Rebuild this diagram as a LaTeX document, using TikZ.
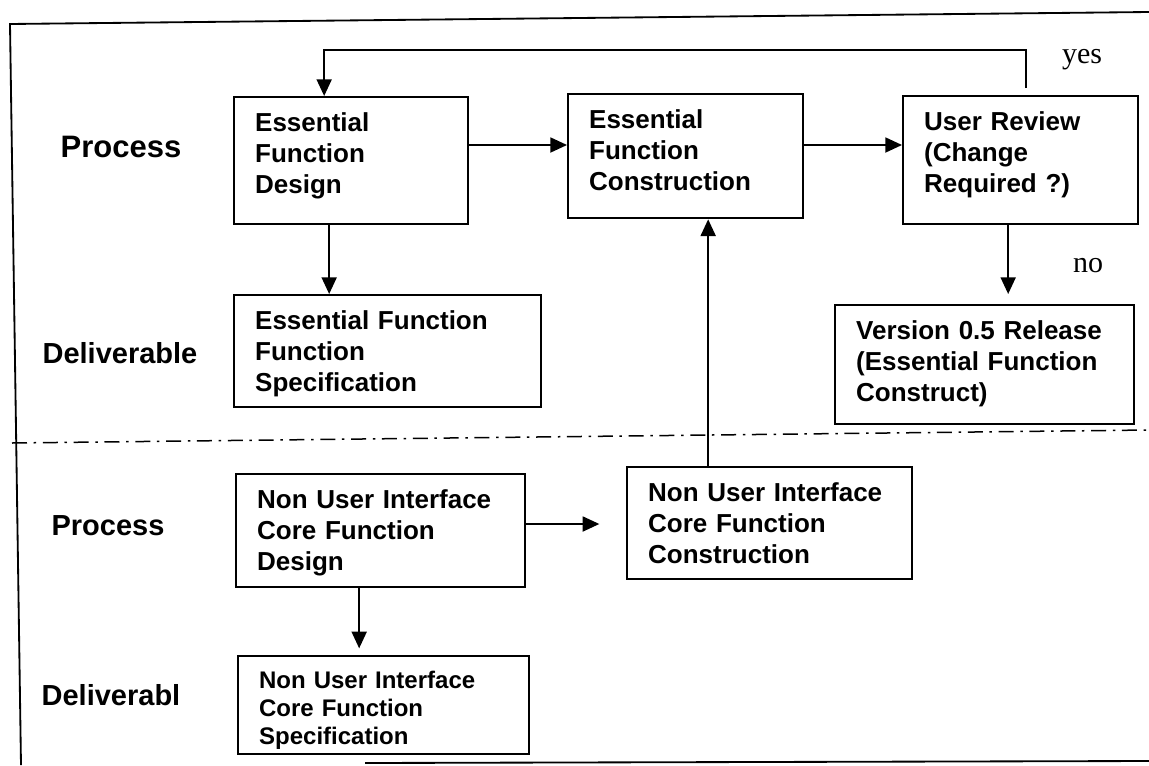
\documentclass[tikz,border=0pt]{standalone}
\usepackage{fontspec}
\setmainfont{Liberation Serif}
\setsansfont{Liberation Sans}
\usetikzlibrary{calc,arrows.meta}

\tikzset{
  stage/.style={draw, line width=1.4pt, anchor=north west, align=left,
    inner xsep=12.6pt, inner ysep=4.8pt, text height=15.6pt,
    font=\sffamily\bfseries\fontsize{15.6pt}{18.6pt}\selectfont},
  lane/.style={anchor=base, font=\sffamily\bfseries\fontsize{17.4pt}{20pt}\selectfont},
  answer/.style={anchor=base, font=\fontsize{18pt}{20pt}\selectfont},
  flow/.style={line width=1.1pt, -{Triangle[length=10pt,width=9pt]}},
  frame/.style={line width=1.1pt},
}

\begin{document}
\begin{tikzpicture}[x=0.6pt,y=-0.6pt]

        \useasboundingbox (0,0) rectangle (1149,765);

        % frame and lane divider
        \draw[frame] (21,765) -- (10,24) -- (1149,12);
        \draw[frame] (365,763) -- (1149,761);
        \draw[line width=0.9pt, dash pattern=on 9pt off 4pt on 1.5pt off 4pt] (12,443) -- (1149,430);

        % lane labels
        \node[lane, font=\sffamily\bfseries\fontsize{18.6pt}{20pt}\selectfont] (procA) at (121,157) {Process};
        \node[lane] (delivA) at (120,363) {Deliverable};
        \node[lane] (procB) at (108,535) {Process};
        \node[lane] (delivB) at (111,705) {Deliverabl};

        % essential function lane
        \node[stage, text width=115.2pt, text depth=51pt] (efd) at (233,96) {Essential\\Function\\Design};
        \node[stage, text width=115.8pt, text depth=49.2pt] (efc) at (567,93) {Essential\\Function\\Construction};
        \node[stage, text width=115.8pt, text depth=51.6pt] (ur) at (902,95) {User Review\\(Change\\Required ?)};
        \node[stage, text width=159pt, text depth=42pt] (efs) at (233,294) {Essential Function\\Function\\Specification};
        \node[stage, text width=154.2pt, text depth=46.2pt] (rel) at (834,304) {Version 0.5 Release\\(Essential Function\\Construct)};

        % core function lane
        \node[stage, text width=148.2pt, text depth=42.6pt] (nuid) at (235,473) {Non User Interface\\Core Function\\Design};
        \node[stage, text width=145.8pt, text depth=42pt] (nuic) at (626,466) {Non User Interface\\Core Function\\Construction};
        \node[stage, text width=149.4pt, text depth=34.8pt, text height=14.4pt,
              font=\sffamily\bfseries\fontsize{14.4pt}{16.8pt}\selectfont] (nuis) at (237,655) {Non User Interface\\Core Function\\Specification};

        \coordinate (row1) at (0,145);
        \coordinate (row2) at (0,524);

        % connectors
        \draw[flow] (efd.east |- row1) -- (efc.west |- row1);
        \draw[flow] (efc.east |- row1) -- (ur.west |- row1);
        \draw[flow] ($(ur.north)+(5.5,-7)$) -- ++(0,-38) -| ($(efd.north)+(-27,0)$);
        \node[answer] (yes) at (1082,63) {yes};

        \draw[flow] ($(efd.south)+(-22,0)$) coordinate (a) -- (a |- efs.north);
        \draw[flow, shorten >=6pt] ($(ur.south)+(-12.5,0)$) coordinate (b) -- (b |- rel.north);
        \node[answer] (no) at (1088,272) {no};

        \coordinate (c) at ($(efc.south)+(22.5,0)$);
        \draw[flow] (nuic.north -| c) -- (c);
        \draw[flow, shorten >=16pt] (nuid.east |- row2) -- (nuic.west |- row2);
        \draw[flow, shorten >=4pt] ($(nuid.south)+(-21.5,0)$) coordinate (d) -- (d |- nuis.north);

    \end{tikzpicture}
\end{document}
